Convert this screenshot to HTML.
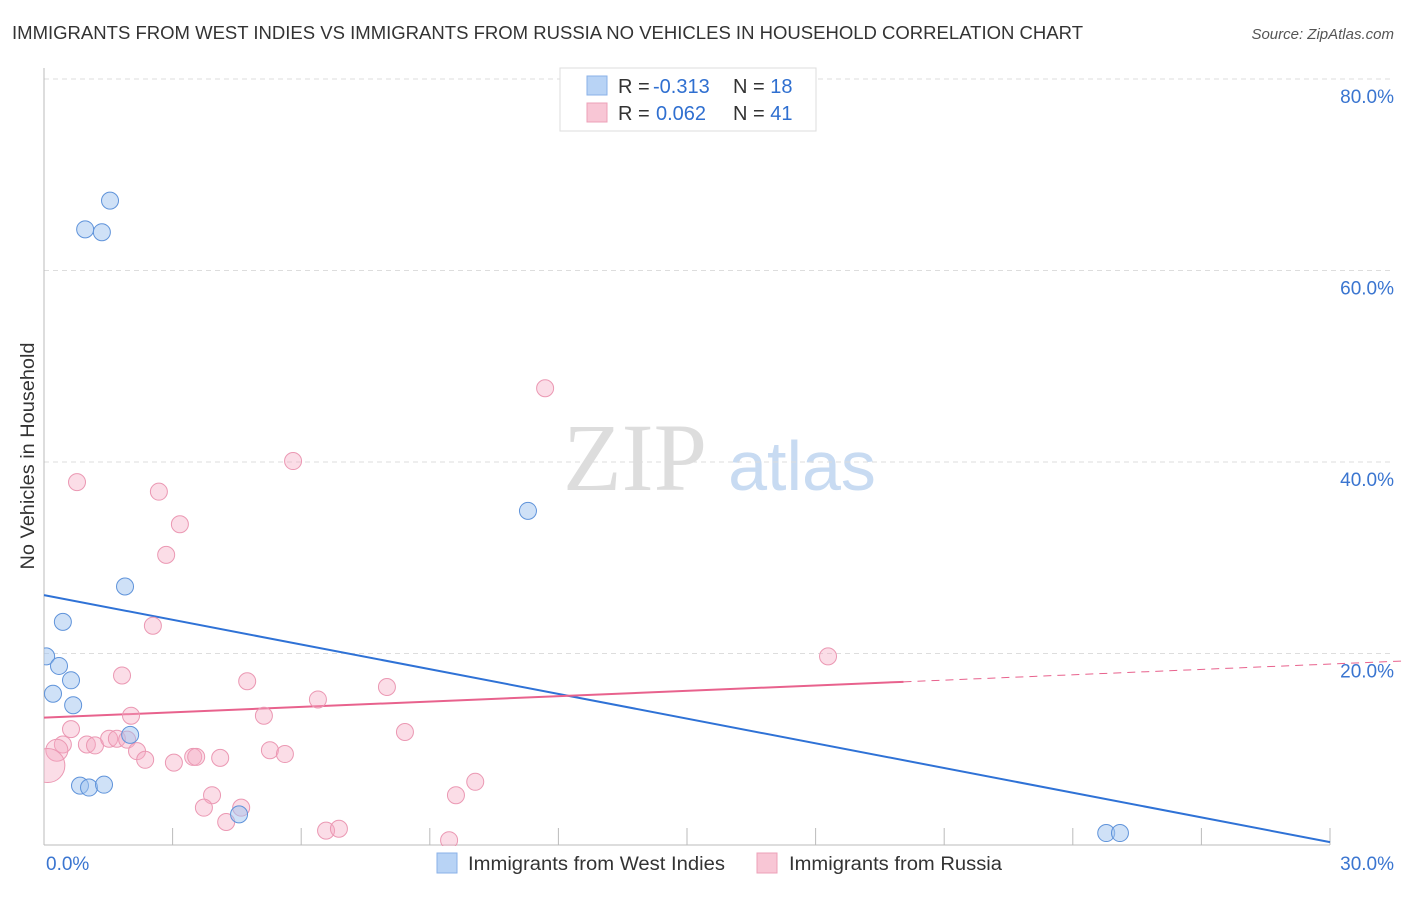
<!DOCTYPE html>
<html><head><meta charset="utf-8"><style>
body{margin:0;background:#fff;font-family:"Liberation Sans",sans-serif}
</style></head><body>
<svg width="1406" height="892" viewBox="0 0 1406 892" xmlns="http://www.w3.org/2000/svg">
<defs><clipPath id="plot"><rect x="44" y="60" width="1360" height="786"/></clipPath></defs>
<text x="12" y="39" font-size="18" fill="#333" textLength="1071" lengthAdjust="spacingAndGlyphs">IMMIGRANTS FROM WEST INDIES VS IMMIGRANTS FROM RUSSIA NO VEHICLES IN HOUSEHOLD CORRELATION CHART</text>
<text x="1394" y="39" font-size="15" fill="#555" font-style="italic" text-anchor="end">Source: ZipAtlas.com</text>
<g>
<text x="635" y="490" font-size="96" fill="#ddd" font-family="Liberation Serif,serif" text-anchor="middle">ZIP</text>
<text x="802" y="490" font-size="70" fill="#c8dbf2" text-anchor="middle">atlas</text>
</g>
<g id="grid"></g>
<g id="axes"></g>
<text transform="translate(34,456) rotate(-90)" font-size="19" fill="#333" text-anchor="middle" textLength="227" lengthAdjust="spacingAndGlyphs">No Vehicles in Household</text>
<g id="trends"></g>
<g id="points" clip-path="url(#plot)"></g>
<g>
<rect x="560" y="68" width="256" height="63" fill="#fff" stroke="#ddd"/>
<rect x="587" y="76" width="20" height="19" fill="#b8d3f5" stroke="#8ab2e8"/>
<rect x="587" y="103" width="20" height="19" fill="#f8c6d5" stroke="#eda0b8"/>
<text x="618" y="93" font-size="20" fill="#333">R = <tspan x="653" fill="#2f6fd0">-0.313</tspan><tspan x="733">N = </tspan><tspan fill="#2f6fd0">18</tspan></text>
<text x="618" y="120" font-size="20" fill="#333">R = <tspan x="656" fill="#2f6fd0">0.062</tspan><tspan x="733">N = </tspan><tspan fill="#2f6fd0">41</tspan></text>
</g>
<g>
<rect x="437" y="853" width="20" height="20" fill="#b8d3f5" stroke="#8ab2e8"/>
<text x="468" y="870" font-size="19" fill="#333" textLength="257" lengthAdjust="spacingAndGlyphs">Immigrants from West Indies</text>
<rect x="757" y="853" width="20" height="20" fill="#f8c6d5" stroke="#eda0b8"/>
<text x="789" y="870" font-size="19" fill="#333" textLength="213" lengthAdjust="spacingAndGlyphs">Immigrants from Russia</text>
</g>
</svg>
<script>
const yTicks=[20,40,60,80];
const yTickLabels=["20.0%","40.0%","60.0%","80.0%"];
const xTickLabels=["0.0%","30.0%"];
const westX=[1.54,0.96,1.35,11.29,1.89,0.44,0.05,0.35,0.63,0.21,0.68,2.01,0.84,1.05,1.40,4.55,24.78,25.10];
const westY=[67.3,64.3,64.0,34.9,27.0,23.3,19.7,18.7,17.2,15.8,14.6,11.5,6.2,6.0,6.3,3.2,1.25,1.25];
const russiaX=[11.69,5.81,0.77,2.68,3.17,2.85,2.54,18.29,1.82,4.74,8.00,6.39,2.03,5.13,0.63,8.42,0.44,1.00,1.19,1.52,1.70,1.94,0.30,5.27,5.62,2.17,2.36,3.03,3.48,3.55,4.11,0.09,10.06,9.61,3.92,3.73,4.60,4.25,6.58,6.88,9.45];
const russiaY=[47.7,40.1,37.9,36.9,33.5,30.3,22.9,19.7,17.7,17.1,16.5,15.2,13.5,13.5,12.1,11.8,10.5,10.5,10.4,11.1,11.1,11.0,9.9,9.9,9.5,9.8,8.9,8.6,9.2,9.2,9.1,8.3,6.6,5.2,5.2,3.9,3.9,2.4,1.5,1.7,0.5];
const russiaR=[8.5,8.5,8.5,8.5,8.5,8.5,8.5,8.5,8.5,8.5,8.5,8.5,8.5,8.5,8.5,8.5,8.5,8.5,8.5,8.5,8.5,8.5,11,8.5,8.5,8.5,8.5,8.5,8.5,8.5,8.5,17,8.5,8.5,8.5,8.5,8.5,8.5,8.5,8.5,8.5];
const westTrend=[26.1,0.3];
const russiaTrend=[13.3,18.9];
const xMin=0,xMax=30,yMin=0,yMax=80;
const X=v=>44+(v-xMin)/(xMax-xMin)*1286;
const Y=v=>845-(v-yMin)/(yMax-yMin)*766;
const NS="http://www.w3.org/2000/svg";
function mk(tag,attrs,parent){const e=document.createElementNS(NS,tag);for(const k in attrs)e.setAttribute(k,attrs[k]);document.getElementById(parent).appendChild(e);return e;}
yTicks.forEach((t,i)=>{
 const g=mk('line',{x1:44,x2:1394,y1:Y(t),y2:Y(t),stroke:'#ddd','stroke-dasharray':'5,4'},'grid');
 
 
 const l=mk('text',{x:1394,y:Y(t)+24,'font-size':19,fill:'#3a75d0','text-anchor':'end'},'grid');
 l.textContent=yTickLabels[i];
 
 
});
const ya=mk('line',{x1:44,x2:44,y1:68,y2:845,stroke:'#bbb'},'axes');


const xa=mk('line',{x1:44,x2:1330,y1:845,y2:845,stroke:'#bbb'},'axes');


for(let i=1;i<=10;i++){
 const t=mk('line',{x1:X(i*3),x2:X(i*3),y1:828,y2:845,stroke:'#bbb'},'axes');
 
 
}
[[xMin,'start',46],[xMax,'end',1394]].forEach((d,i)=>{
 const l=mk('text',{x:d[2],y:870,'font-size':19,fill:'#3a75d0','text-anchor':d[1]},'axes');
 l.textContent=xTickLabels[i];
 
 
});
const bt=mk('line',{x1:X(0),y1:Y(westTrend[0]),x2:X(30),y2:Y(westTrend[1]),stroke:'#2f72d6','stroke-width':2},'trends');


const xs=20.05,ys=russiaTrend[0]+(russiaTrend[1]-russiaTrend[0])*xs/30;
const pt=mk('line',{x1:X(0),y1:Y(russiaTrend[0]),x2:X(xs),y2:Y(ys),stroke:'#e8628d','stroke-width':2},'trends');


const pd=mk('line',{x1:X(xs),y1:Y(ys),x2:X(32.7),y2:Y(russiaTrend[0]+(russiaTrend[1]-russiaTrend[0])*32.7/30),stroke:'#e8628d','stroke-width':1,'stroke-dasharray':'8,6'},'trends');


russiaX.forEach((x,i)=>{
 const c=mk('circle',{cx:X(x),cy:Y(russiaY[i]),r:russiaR[i],fill:'rgba(245,170,195,0.4)',stroke:'#eb98b3','stroke-width':1},'points');
 
 
});
westX.forEach((x,i)=>{
 const c=mk('circle',{cx:X(x),cy:Y(westY[i]),r:8.5,fill:'rgba(160,195,240,0.5)',stroke:'#5f93da','stroke-width':1},'points');
 
 
});
</script>
</body></html>
